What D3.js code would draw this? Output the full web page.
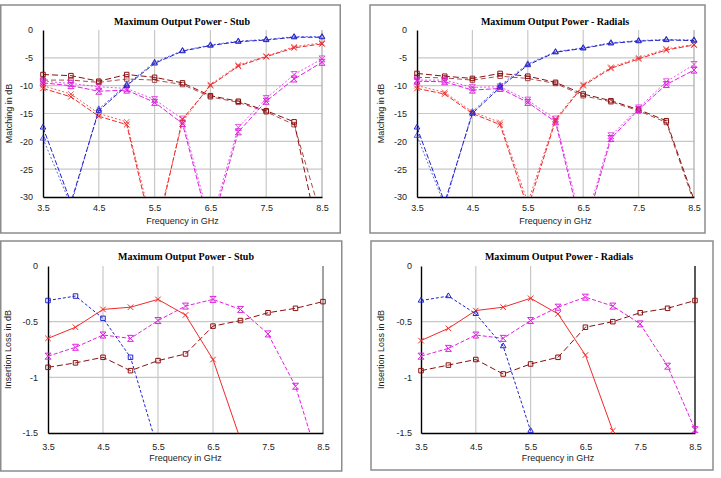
<!DOCTYPE html>
<html>
<head>
<meta charset="utf-8">
<script src="https://cdn.jsdelivr.net/npm/d3@7"></script>
<style>
  body { margin: 0; background: #fff; }
  text { font-family: "Liberation Sans", Arial, sans-serif; }
</style>
</head>
<body>
<div id="chart"></div>
<script>
// frequencies in GHz
var freqs = [3.5, 4, 4.5, 5, 5.5, 6, 6.5, 7, 7.5, 8, 8.5];

// matching, stub (two curves per band)
var stubBlueA = [-17.5, -31, -14.5, -10, -6, -3.8, -2.8, -2.1, -1.8, -1.3, -1.3];
var stubBlueB = [-19.5, -31.5, -14.2, -9.8, -5.8, -3.7, -2.7, -2.0, -1.7, -1.2, -1.2];
var stubRedA = [-10.5, -12, -15.5, -17, -38, -16, -10, -6.5, -4.8, -3.2, -2.5];
var stubRedB = [-10, -11.5, -15, -16.5, -37, -16.5, -9.8, -6.3, -4.7, -3.0, -2.3];
var stubMagA = [-9.5, -10, -11, -10.8, -13, -16.8, -36, -18.3, -12.8, -8.8, -5.8];
var stubMagB = [-9.2, -9.6, -10.2, -10.5, -12.5, -16, -35, -17.5, -12.3, -8.0, -5.2];
var stubDarkA = [-8, -8.2, -9.2, -8, -8.5, -9.5, -11.8, -12.8, -14.5, -16.5, -40];
var stubDarkB = [-9, -9, -9.4, -8.8, -9, -9.8, -12, -13, -14.7, -17, -34];

// matching, radials
var radBlueA = [-17.5, -31, -15, -10.3, -6.3, -4, -3.3, -2.4, -2, -1.8, -1.9];
var radBlueB = [-19, -31.5, -14.7, -10, -6.1, -3.9, -3.2, -2.3, -1.9, -1.7, -1.8];
var radRedA = [-10.5, -11.5, -15, -17, -32, -16.3, -10, -6.9, -5.2, -3.6, -2.7];
var radRedB = [-10, -11.2, -14.7, -16.6, -31, -16, -9.8, -6.7, -5.0, -3.4, -2.6];
var radMagA = [-9.2, -9.3, -10.8, -10.5, -13, -16.5, -37, -19.5, -14.3, -9.8, -7.2];
var radMagB = [-9.0, -9.0, -10.3, -10.2, -12.6, -16, -36, -19, -14, -9.3, -6.2];
var radDarkA = [-7.8, -8.3, -8.7, -7.8, -8.3, -9.4, -11.5, -12.7, -14.3, -16.3, -30.5];
var radDarkB = [-8.5, -8.6, -9, -8.3, -8.7, -9.6, -11.8, -12.9, -14.5, -16.6, -31];

// insertion loss, stub
var ilStubBlue = [-0.31, -0.27, -0.47, -0.82, -1.65, null, null, null, null, null, null];
var ilStubRed = [-0.65, -0.55, -0.39, -0.37, -0.30, -0.44, -0.84, -1.56, null, null, null];
var ilStubMag = [-0.81, -0.73, -0.62, -0.65, -0.49, -0.36, -0.30, -0.39, -0.61, -1.08, -1.88];
var ilStubDark = [-0.91, -0.87, -0.82, -0.94, -0.85, -0.79, -0.54, -0.49, -0.42, -0.38, -0.32];

// insertion loss, radials
var ilRadBlue = [-0.31, -0.27, -0.43, -0.72, -1.48, null, null, null, null, null, null];
var ilRadRed = [-0.67, -0.56, -0.40, -0.37, -0.29, -0.43, -0.80, -1.48, null, null, null];
var ilRadMag = [-0.81, -0.74, -0.62, -0.65, -0.49, -0.37, -0.28, -0.36, -0.52, -0.90, -1.47];
var ilRadDark = [-0.94, -0.89, -0.84, -0.97, -0.88, -0.82, -0.55, -0.50, -0.42, -0.38, -0.31];

var xTicks = [3.5, 4.5, 5.5, 6.5, 7.5, 8.5];
var matchTicks = [0, -5, -10, -15, -20, -25, -30];
var ilTicks = [0, -0.5, -1, -1.5];

var colors = {blue: "#2222cc", red: "#ee2a2a", mag: "#e020e0", dark: "#8a1010"};

var svg = d3.select("#chart").append("svg")
  .attr("width", 721).attr("height", 478);

// marker shapes
var hourglass = "M-3,-3H3L-3,3H3Z";
function markerPath(kind) {
  if (kind == "tri") return d3.symbol().type(d3.symbolTriangle2).size(22)();
  if (kind == "sq") return d3.symbol().type(d3.symbolSquare2).size(26)();
  if (kind == "x") return d3.symbol().type(d3.symbolTimes).size(22)();
  return hourglass;
}

function panel(cfg, id) {
  // outer frame
  svg.append("rect")
    .attr("x", cfg.frame[0]).attr("y", cfg.frame[1])
    .attr("width", cfg.frame[2]).attr("height", cfg.frame[3])
    .attr("fill", "none").attr("stroke", "#8c8c8c").attr("stroke-width", 1.5);

  var g = svg.append("g");
  var x = d3.scaleLinear().domain([3.5, 8.5]).range([cfg.left, cfg.right]);
  var y = d3.scaleLinear().domain(cfg.yDomain).range([cfg.top, cfg.bottom]);

  // grid
  g.selectAll(".vg").data(cfg.vGrid).enter().append("line")
    .attr("x1", d => x(d)).attr("x2", d => x(d))
    .attr("y1", cfg.top).attr("y2", cfg.bottom)
    .attr("stroke", "#c8c8c8").attr("stroke-width", 1.2);
  g.selectAll(".hg").data(cfg.hGrid).enter().append("line")
    .attr("x1", cfg.left).attr("x2", cfg.right)
    .attr("y1", d => y(d)).attr("y2", d => y(d))
    .attr("stroke", "#c8c8c8").attr("stroke-width", 1.2);

  // right edge of plot
  g.append("line")
    .attr("x1", cfg.right).attr("x2", cfg.right)
    .attr("y1", cfg.top).attr("y2", cfg.bottom)
    .attr("stroke", cfg.rightColor).attr("stroke-width", 1.3);

  // axes
  var xa = g.append("g")
    .attr("transform", "translate(0," + cfg.bottom + ")")
    .call(d3.axisBottom(x).tickValues(xTicks).tickSize(0).tickPadding(cfg.xPad).tickFormat(d3.format(".1f")));
  var ya = g.append("g")
    .attr("transform", "translate(" + cfg.left + ",0)")
    .call(d3.axisLeft(y).tickValues(cfg.yTicks).tickSize(0).tickPadding(cfg.yPad).tickFormat(d => String(d)));
  [xa, ya].forEach(function(a) {
    a.select(".domain").attr("stroke", "#000").attr("stroke-width", 1.4);
    a.selectAll("text").attr("font-size", 9).attr("fill", "#222")
      .style("font-family", "Liberation Sans, Arial, sans-serif");
  });

  // clip to plot
  svg.append("clipPath").attr("id", "clip" + id)
    .append("rect")
    .attr("x", cfg.left - 4).attr("y", cfg.top - 4)
    .attr("width", cfg.right - cfg.left + 8).attr("height", cfg.bottom - cfg.top + 4);

  var plot = g.append("g").attr("clip-path", "url(#clip" + id + ")");
  var line = d3.line()
    .defined(d => d != null)
    .x((d, i) => x(freqs[i]))
    .y(d => y(d));

  cfg.series.forEach(function(s) {
    plot.append("path")
      .datum(s.values)
      .attr("fill", "none")
      .attr("stroke", s.color)
      .attr("stroke-width", s.width || 1)
      .attr("stroke-dasharray", s.dash)
      .attr("opacity", s.opacity || 1)
      .attr("d", line);

    plot.selectAll(null)
      .data(s.values.map((v, i) => [freqs[i], v]).filter(p => p[1] != null && p[1] >= cfg.yDomain[1]))
      .enter().append("path")
      .attr("transform", p => "translate(" + x(p[0]) + "," + y(p[1]) + ")")
      .attr("d", markerPath(s.marker))
      .attr("fill", "none")
      .attr("stroke", s.color)
      .attr("stroke-width", 1)
      .attr("opacity", s.opacity || 1);
  });

  // title
  svg.append("text")
    .attr("x", cfg.titleX).attr("y", cfg.titleY)
    .attr("text-anchor", "middle")
    .style("font-family", "Liberation Serif, Times New Roman, serif")
    .attr("font-weight", "bold").attr("font-size", 10)
    .text(cfg.title);

  // axis titles
  svg.append("text")
    .attr("x", (cfg.left + cfg.right) / 2).attr("y", cfg.xLabelY)
    .attr("text-anchor", "middle").attr("font-size", 9).attr("fill", "#222")
    .text("Frequency in GHz");
  svg.append("text")
    .attr("transform", "translate(" + cfg.yLabelX + "," + ((cfg.top + cfg.bottom) / 2) + ") rotate(-90)")
    .attr("text-anchor", "middle").attr("font-size", 9).attr("fill", "#222")
    .text(cfg.yLabel);
}

function topSeries(blueA, blueB, redA, redB, magA, magB, darkA, darkB) {
  return [
    {values: darkB, color: colors.dark, dash: "5,3", marker: "sq", opacity: 0.75},
    {values: darkA, color: colors.dark, dash: "6,3", marker: "sq"},
    {values: magB, color: colors.mag, dash: "2,2", marker: "hg", opacity: 0.75},
    {values: magA, color: colors.mag, dash: "5,2", marker: "hg"},
    {values: redB, color: colors.red, dash: "2,2", marker: "x", opacity: 0.75},
    {values: redA, color: colors.red, dash: "5,2", marker: "x"},
    {values: blueB, color: colors.blue, dash: "2,2", marker: "tri", opacity: 0.7},
    {values: blueA, color: colors.blue, dash: "5,2", marker: "tri"}
  ];
}

panel({
  frame: [0.75, 5, 339.5, 228], left: 43, right: 322, top: 30, bottom: 197,
  yDomain: [0, -30], yTicks: matchTicks, yPad: 10, xPad: 8,
  vGrid: [4.5, 5.5, 6.5, 7.5], hGrid: [-5, -10, -15, -20, -25], rightColor: "#b0b0b0",
  title: "Maximum Output Power - Stub", titleX: 182, titleY: 25,
  xLabelY: 224, yLabelX: 12, yLabel: "Matching in dB",
  series: topSeries(stubBlueA, stubBlueB, stubRedA, stubRedB, stubMagA, stubMagB, stubDarkA, stubDarkB)
}, 1);

panel({
  frame: [370, 5, 335, 228], left: 417, right: 694, top: 30, bottom: 197,
  yDomain: [0, -30], yTicks: matchTicks, yPad: 10, xPad: 8,
  vGrid: [4.5, 5.5, 6.5, 7.5], hGrid: [-5, -10, -15, -20, -25], rightColor: "#b0b0b0",
  title: "Maximum Output Power - Radials", titleX: 555, titleY: 25,
  xLabelY: 224, yLabelX: 384, yLabel: "Matching in dB",
  series: topSeries(radBlueA, radBlueB, radRedA, radRedB, radMagA, radMagB, radDarkA, radDarkB)
}, 2);

function bottomSeries(blue, red, mag, dark, blueMarker) {
  return [
    {values: dark, color: colors.dark, dash: "6,3", marker: "sq"},
    {values: mag, color: colors.mag, dash: "4,2", marker: "hg"},
    {values: red, color: colors.red, dash: null, marker: "x"},
    {values: blue, color: colors.blue, dash: "3,2", marker: blueMarker}
  ];
}

panel({
  frame: [0.75, 241, 341, 230], left: 48, right: 323, top: 266, bottom: 433,
  yDomain: [0, -1.5], yTicks: ilTicks, yPad: 10, xPad: 11,
  vGrid: [4.5, 5.5, 6.5], hGrid: [-0.5, -1], rightColor: "#707070",
  title: "Maximum Output Power - Stub", titleX: 186, titleY: 260,
  xLabelY: 461, yLabelX: 11, yLabel: "Insertion Loss in dB",
  series: bottomSeries(ilStubBlue, ilStubRed, ilStubMag, ilStubDark, "sq")
}, 3);

panel({
  frame: [371, 241, 342, 229], left: 421, right: 695, top: 266, bottom: 433,
  yDomain: [0, -1.5], yTicks: ilTicks, yPad: 9, xPad: 11,
  vGrid: [4.5, 5.5], hGrid: [-0.5, -1], rightColor: "#000",
  title: "Maximum Output Power - Radials", titleX: 559, titleY: 260,
  xLabelY: 461, yLabelX: 384, yLabel: "Insertion Loss in dB",
  series: bottomSeries(ilRadBlue, ilRadRed, ilRadMag, ilRadDark, "tri")
}, 4);
</script>
</body>
</html>
